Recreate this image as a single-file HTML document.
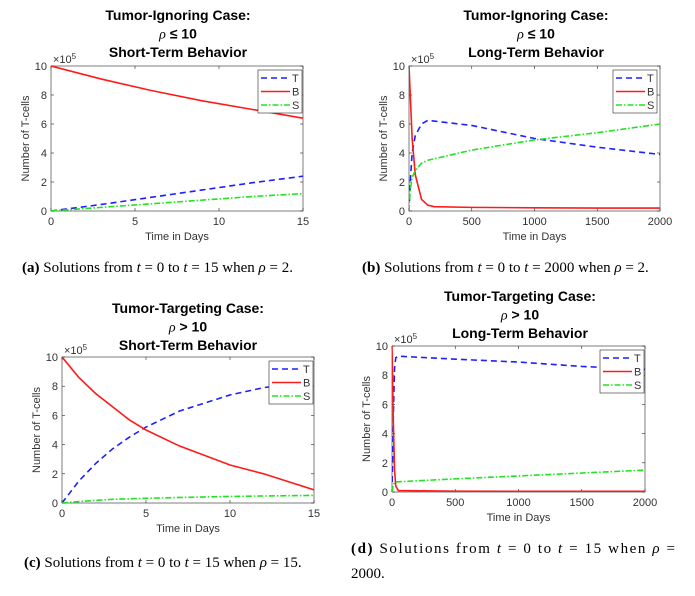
<!DOCTYPE html>
<html><head><meta charset="utf-8"><style>
body{margin:0;background:#fff;width:695px;height:596px;overflow:hidden}
svg{display:block}
.cap{font-family:"Liberation Serif",serif;font-size:15px;fill:#000}
.ttl{font-family:"Liberation Sans",sans-serif;font-size:14px;font-weight:bold;fill:#000}
.tk{font-family:"Liberation Sans",sans-serif;font-size:11px;fill:#333}
.lab{font-family:"Liberation Sans",sans-serif;font-size:11px;fill:#333}
</style></head><body>
<svg id="fig" width="695" height="596">
<g><text class="cap" x="22" y="272"><tspan font-weight="bold">(a)</tspan> Solutions from <tspan font-style="italic">t</tspan> = 0 to <tspan font-style="italic">t</tspan> = 15 when <tspan font-style="italic">ρ</tspan> = 2.</text></g>
<g><text class="cap" x="362" y="272"><tspan font-weight="bold">(b)</tspan> Solutions from <tspan font-style="italic">t</tspan> = 0 to <tspan font-style="italic">t</tspan> = 2000 when <tspan font-style="italic">ρ</tspan> = 2.</text></g>
<g><text class="cap" x="24" y="567"><tspan font-weight="bold">(c)</tspan> Solutions from <tspan font-style="italic">t</tspan> = 0 to <tspan font-style="italic">t</tspan> = 15 when <tspan font-style="italic">ρ</tspan> = 15.</text></g>
<g><text class="cap" x="351" y="553" textLength="324" lengthAdjust="spacing"><tspan font-weight="bold">(d)</tspan> Solutions from <tspan font-style="italic">t</tspan> = 0 to <tspan font-style="italic">t</tspan> = 15 when <tspan font-style="italic">ρ</tspan> =</text><text class="cap" x="351" y="578">2000.</text></g>
</svg>
<script>
// Panel A data
const aT=[0,3,6,9,12,15];
const aTcell=[0,0.45,0.95,1.45,1.95,2.4];
const aB=[10,9.1,8.3,7.6,7.0,6.4];
const aS=[0,0.25,0.5,0.75,1.0,1.2];
const aXticks=[0,5,10,15];
// Panel B data
const bT=[0,10,25,50,100,150,200,500,1000,1500,2000];
const bTcell=[0,2,4,5.2,6.0,6.25,6.2,5.9,5.0,4.4,3.9];
const bB=[10,8,5,2.5,0.8,0.4,0.3,0.25,0.22,0.2,0.2];
const bS=[0,1.5,2.3,2.8,3.3,3.5,3.6,4.2,4.9,5.4,6.0];
const bXticks=[0,500,1000,1500,2000];
// Panel C data
const cT=[0,1,2,3,4,5,7,10,12,15];
const cTcell=[0,1.5,2.7,3.7,4.5,5.2,6.3,7.4,7.9,8.4];
const cB=[10,8.6,7.5,6.6,5.7,5.0,3.9,2.6,2.0,0.9];
const cS=[0,0.1,0.18,0.25,0.29,0.32,0.38,0.45,0.48,0.52];
const cXticks=[0,5,10,15];
// Panel D data
const dT=[0,10,20,30,50,500,1000,1500,2000];
const dTcell=[0,5,8.5,9.2,9.3,9.1,8.9,8.6,8.4];
const dB=[10,5,1.5,0.4,0.1,0.06,0.05,0.05,0.05];
const dS=[0,0.5,0.65,0.7,0.7,0.9,1.1,1.3,1.5];
const dXticks=[0,500,1000,1500,2000];
const yTicks=[0,2,4,6,8,10];

const NS='http://www.w3.org/2000/svg';
const svg=document.getElementById('fig');
function mk(tag,attrs,parent){const e=document.createElementNS(NS,tag);for(const k in attrs)e.setAttribute(k,attrs[k]);(parent||svg).appendChild(e);return e;}

function panel(id,box,xmax,ts,T,B,S,xt,titles,tx,ty,leg){
  const g=mk('g',{});
  
  
  const [L,Tp,R,Bt]=box;
  const sx=v=>L+(v/xmax)*(R-L);
  const sy=v=>Bt-(v/10)*(Bt-Tp);
  const fr=mk('rect',{x:L,y:Tp,width:R-L,height:Bt-Tp,fill:'#fff',stroke:'#262626','stroke-width':0.6},g);
  
  
  titles.forEach((t,i)=>{const e=mk('text',{x:tx,y:ty+i*18.5,'text-anchor':'middle',class:'ttl'},g);
    if(i===1){e.innerHTML='<tspan font-style="italic" font-weight="normal" font-family="Liberation Serif">ρ</tspan>'+t.slice(1);}else e.textContent=t;
    
    });
  xt.forEach(v=>{mk('line',{x1:sx(v),x2:sx(v),y1:Bt,y2:Bt-3,stroke:'#262626','stroke-width':0.6},g);
    mk('line',{x1:sx(v),x2:sx(v),y1:Tp,y2:Tp+3,stroke:'#262626','stroke-width':0.6},g);
    const e=mk('text',{x:sx(v),y:Bt+14,'text-anchor':'middle',class:'tk'},g);e.textContent=v;
    
    });
  yTicks.forEach(v=>{mk('line',{x1:L,x2:L+3,y1:sy(v),y2:sy(v),stroke:'#262626','stroke-width':0.6},g);
    mk('line',{x1:R,x2:R-3,y1:sy(v),y2:sy(v),stroke:'#262626','stroke-width':0.6},g);
    const e=mk('text',{x:L-4,y:sy(v)+4,'text-anchor':'end',class:'tk'},g);e.textContent=v;
    
    });
  const ex=mk('text',{x:L+2,y:Tp-3,class:'tk'},g);ex.innerHTML='×10<tspan dy="-4" font-size="8">5</tspan>';
  
  
  const xl=mk('text',{x:(L+R)/2,y:Bt+29,'text-anchor':'middle',class:'lab'},g);xl.textContent='Time in Days';
  
  
  const yl=mk('text',{x:0,y:0,'text-anchor':'middle',class:'lab',transform:`translate(${L-22},${(Tp+Bt)/2}) rotate(-90)`},g);yl.textContent='Number of T-cells';
  
  
  const series=[[T,'#1f1fff','6,4','T'],[B,'#ff1a1a','','B'],[S,'#1ee61e','6,2,1.5,2','S']];
  const cp=mk('clipPath',{id:'cp'+id},g);mk('rect',{x:L,y:Tp,width:R-L,height:Bt-Tp},cp);
  series.forEach(([arr,c,d,n])=>{
    const p=mk('polyline',{points:ts.map((t,i)=>sx(t)+','+sy(arr[i])).join(' '),fill:'none',stroke:c,'stroke-width':1.6,'stroke-dasharray':d,'clip-path':`url(#cp${id})`},g);
    
    
  });
  const [lx,ly]=leg;
  const lg=mk('g',{},g);
  
  
  mk('rect',{x:lx,y:ly,width:44,height:43,fill:'#fff',stroke:'#262626','stroke-width':0.6},lg);
  series.forEach(([a,c,d,n],i)=>{
    const yy=ly+8+i*13.5;
    mk('line',{x1:lx+3,x2:lx+32,y1:yy,y2:yy,stroke:c,'stroke-width':1.6,'stroke-dasharray':d},lg);
    const t=mk('text',{x:lx+34,y:yy+4,class:'tk'},lg);t.textContent=n;
    
    
  });
}
panel('a',[51,66,303,211],15,aT,aTcell,aB,aS,aXticks,['Tumor-Ignoring Case:','ρ ≤ 10','Short-Term Behavior'],178,20,[258,70]);
panel('b',[409,66,660,211],2000,bT,bTcell,bB,bS,bXticks,['Tumor-Ignoring Case:','ρ ≤ 10','Long-Term Behavior'],536,20,[613,70]);
panel('c',[62,357,314,503],15,cT,cTcell,cB,cS,cXticks,['Tumor-Targeting Case:','ρ > 10','Short-Term Behavior'],188,313,[269,361]);
panel('d',[392,346,645,492],2000,dT,dTcell,dB,dS,dXticks,['Tumor-Targeting Case:','ρ > 10','Long-Term Behavior'],520,301,[600,350]);
</script>
</body></html>
